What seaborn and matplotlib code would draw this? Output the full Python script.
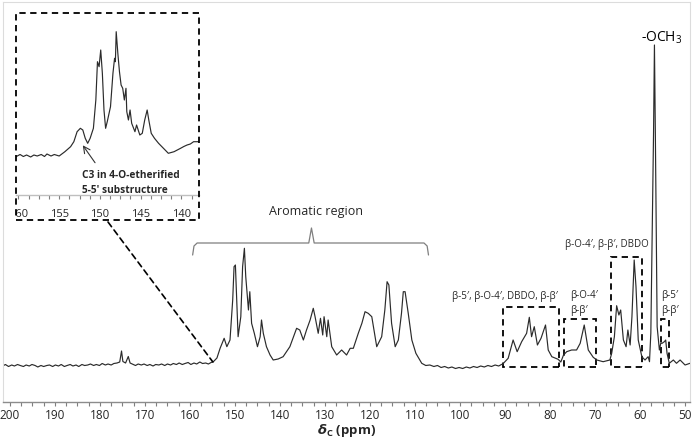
import matplotlib
matplotlib.use("Agg")
import matplotlib.pyplot as plt
import seaborn as sns
import pandas as pd
from matplotlib.patches import Rectangle, ConnectionPatch
from matplotlib.ticker import MultipleLocator

# ---------------------------------------------------------------
# spectrum: (ppm, intensity)
# ---------------------------------------------------------------
baseline_left = [
    (201.6, 1.0), (201.0, 2.5), (200.3, 0.5), (199.6, 2.0), (199.0, 1.0),
    (198.3, 2.5), (197.7, 1.5), (197.0, 0.5), (196.4, 2.0), (195.7, 1.0),
    (195.1, 2.5), (194.4, 1.5), (193.8, 0.0), (193.1, 1.5), (192.5, 0.5),
    (191.8, 1.5), (191.2, 2.0), (190.5, 0.5), (189.9, 2.0), (189.2, 1.0),
    (188.6, 2.5), (187.9, 0.5), (187.3, 1.5), (186.6, 2.5), (186.0, 1.0),
    (185.3, 2.0), (184.7, 0.5), (184.0, 2.5), (183.4, 1.5), (182.7, 2.0),
    (182.1, 3.0), (181.4, 1.5), (180.8, 2.5), (180.1, 1.5), (179.5, 3.5),
    (178.8, 2.0), (178.2, 3.0), (177.5, 2.0), (176.9, 3.5), (176.2, 4.0),
    (175.6, 5.0), (175.2, 16.0), (174.9, 5.5), (174.3, 4.0), (173.7, 10.5),
    (173.3, 4.0), (172.8, 3.0), (172.1, 1.5), (171.5, 3.0), (170.8, 2.0),
    (170.2, 3.0), (169.5, 1.5), (168.9, 2.5), (168.2, 1.0), (167.6, 2.5),
    (166.9, 2.0), (166.3, 3.0), (165.6, 1.5), (165.0, 3.0), (164.3, 2.0),
    (163.7, 3.5), (163.0, 2.5), (162.4, 4.0), (161.7, 2.5), (161.1, 3.5),
    (160.4, 4.5), (159.8, 2.5), (159.1, 4.0), (158.5, 3.0), (157.8, 5.0),
    (157.2, 3.5), (156.5, 4.0), (155.9, 3.0), (155.3, 4.5),
]

aromatic = [
    (154.8, 5.3), (154.0, 9.0), (153.3, 18.7), (152.4, 28.7), (151.8, 20.3),
    (151.1, 27.0), (150.5, 67.0), (150.2, 100.3), (149.9, 102.0), (149.6, 67.0),
    (149.3, 30.3), (148.7, 50.3), (148.3, 100.3), (147.9, 118.7), (147.6, 90.3),
    (147.0, 57.0), (146.7, 75.3), (146.3, 43.7), (145.7, 33.7), (145.0, 20.3),
    (144.4, 30.3), (144.1, 47.0), (143.7, 33.7), (143.0, 20.3), (142.2, 12.0),
    (141.5, 7.0), (140.4, 8.0), (139.3, 10.3), (137.8, 20.3), (136.3, 38.7),
    (135.6, 37.0), (134.8, 27.0), (134.1, 37.0), (133.3, 47.0), (132.6, 58.7),
    (132.2, 50.3), (131.5, 33.7), (131.0, 48.7), (130.5, 32.0), (130.2, 50.3),
    (129.6, 30.3), (129.3, 47.0), (128.5, 20.3), (127.4, 12.0), (126.3, 17.0),
    (125.2, 12.0), (124.4, 18.7), (123.7, 18.7), (122.6, 33.7), (121.8, 43.7),
    (121.1, 55.3), (120.4, 53.7), (119.6, 50.3), (118.5, 20.3), (117.4, 30.3),
    (116.7, 57.0), (116.2, 85.3), (115.8, 82.0), (115.2, 43.7), (114.4, 20.3),
    (113.7, 27.0), (113.0, 53.7), (112.6, 75.3), (112.2, 75.3), (111.5, 53.7),
    (110.7, 27.0), (109.8, 13.7), (108.5, 3.7), (107.6, 1.5), (106.7, 2.0),
]

baseline_mid = [
    (105.8, 0.5), (105.0, 1.5), (104.2, -0.5), (103.4, 0.5), (102.6, -1.0),
    (101.8, 0.0), (101.0, -1.5), (100.2, -0.5), (99.4, -1.5), (98.6, 0.0),
    (97.8, -1.0), (97.0, 0.5), (96.2, -0.5), (95.4, 1.0), (94.6, 0.0),
    (93.8, 1.5), (93.0, 0.5), (92.2, 2.0), (91.4, 1.0), (90.8, 2.5),
]

aliphatic = [
    (90.5, 3.0), (89.3, 8.7), (88.2, 27.0), (87.3, 15.3), (86.3, 25.3),
    (85.2, 33.7), (84.6, 49.7), (84.1, 30.3), (83.5, 40.3), (82.8, 22.0),
    (82.0, 28.7), (81.0, 42.0), (80.4, 17.0), (79.6, 10.3), (78.2, 7.7),
    (77.6, 5.0), (77.0, 12.0), (76.3, 15.3), (75.2, 17.0), (74.1, 17.0),
    (73.3, 23.7), (72.8, 33.7), (72.4, 42.0), (72.1, 33.7), (71.5, 17.0),
    (70.4, 9.7), (69.6, 7.0), (68.2, 5.3), (66.7, 7.0), (66.3, 13.7),
    (65.7, 30.3), (65.2, 61.3), (64.7, 52.0), (64.3, 57.0), (63.7, 27.0),
    (63.1, 20.3), (62.7, 37.0), (62.2, 22.0), (61.8, 50.3), (61.3, 107.0),
    (60.9, 80.3), (60.4, 27.0), (59.6, 10.3), (58.9, 7.0), (58.2, 10.3),
    (57.9, 5.3), (57.6, 34.0), (57.3, 134.0), (57.0, 234.0), (56.8, 322.0),
    (56.6, 234.0), (56.4, 134.0), (56.2, 40.3), (55.7, 17.0), (55.4, 23.7),
    (55.1, 23.7), (54.6, 25.3), (54.3, 27.0), (54.0, 13.7), (53.5, 3.7),
    (52.6, 7.0), (51.9, 3.7), (51.1, 7.0), (50.0, 2.0), (48.9, 3.7),
]

# inset (zoom of 160-138 ppm)
inset_trace = [
    (160.3, 0.3), (159.8, 2.5), (159.4, 0.5), (159.0, 2.0), (158.5, 0.0),
    (158.1, 2.0), (157.7, 1.0), (157.2, 2.5), (156.8, 0.5), (156.5, 3.0),
    (156.0, 1.0), (155.6, 2.5), (155.0, 1.0), (154.3, 5.3), (153.6, 10.3),
    (153.2, 15.3), (152.8, 25.3), (152.4, 28.7), (152.1, 27.0), (151.8, 18.7),
    (151.5, 13.7), (151.2, 18.7), (150.8, 28.7), (150.5, 57.0), (150.3, 95.3),
    (150.1, 90.3), (149.9, 107.0), (149.7, 83.7), (149.5, 47.0), (149.3, 28.7),
    (149.1, 35.3), (148.7, 50.3), (148.4, 83.7), (148.2, 98.7), (148.1, 95.3),
    (148.0, 125.3), (147.8, 103.7), (147.6, 85.3), (147.4, 72.0), (147.2, 68.7),
    (147.0, 57.0), (146.8, 68.7), (146.7, 45.3), (146.5, 37.0), (146.3, 47.0),
    (146.1, 33.7), (145.7, 25.3), (145.5, 32.0), (145.1, 22.0), (144.8, 23.7),
    (144.5, 37.0), (144.2, 47.0), (144.0, 37.0), (143.7, 23.7), (143.3, 18.7),
    (142.8, 13.7), (142.2, 8.7), (141.6, 3.7), (140.9, 5.3), (140.1, 8.7),
    (139.7, 10.5), (139.3, 12.0), (138.9, 13.0), (138.5, 15.3), (137.7, 15.3),
]

# assignment boxes: (ppm left, ppm right, top intensity)
box_ranges = [(90.5, 78.1, 60.3), (76.8, 69.8, 47.7), (66.4, 59.6, 110.3), (55.4, 53.6, 48.0)]
box_labels = ["β-5′, β-O-4′, DBDO, β-β′", "β-O-4′\nβ-β′", "β-O-4′, β-β′, DBDO", "β-5′\nβ-β′"]

aromatic_span = (159.4, 107.0)
aromatic_tip = 133.0

LINE = "#2b2b2b"
TXT = "#262626"

sns.set_theme(style="white")
plt.rcParams["font.family"] = ["Open Sans", "DejaVu Sans"]
plt.rcParams["mathtext.fontset"] = "custom"
plt.rcParams["mathtext.it"] = "DejaVu Sans:italic:bold"
plt.rcParams["mathtext.rm"] = "Open Sans"
plt.rcParams["mathtext.bf"] = "Open Sans:bold"

spec = pd.DataFrame(baseline_left + aromatic + baseline_mid + aliphatic, columns=["ppm", "I"])
ins_df = pd.DataFrame(inset_trace, columns=["ppm", "I"])

fig = plt.figure(figsize=(6.93, 4.44), dpi=100)
W, H = 693.0, 444.0

# ---------------- main spectrum ----------------
ax = fig.add_axes([2.7 / W, 1 - 402 / H, (690 - 2.7) / W, 400 / H])
sns.lineplot(data=spec, x="ppm", y="I", ax=ax, color=LINE, lw=0.85, sort=False, estimator=None)
ax.set_xlim(201.6, 48.9)
ax.set_ylim(-35, 365)
ax.set_yticks([])
ax.set_ylabel("")
ax.xaxis.set_major_locator(MultipleLocator(10))
ax.xaxis.set_minor_locator(MultipleLocator(2.5))
ax.tick_params(axis="x", which="both", direction="out", length=3, width=0.8,
               color="#7f7f7f", labelsize=8.5, labelcolor=TXT, pad=2, bottom=True)
for side in ["left", "top", "right"]:
    ax.spines[side].set_color("#dcdcdc")
    ax.spines[side].set_linewidth(0.8)
ax.spines["bottom"].set_color("#8c8c8c")
ax.spines["bottom"].set_linewidth(1.0)
ax.set_xlabel(r"$δ_{\mathbf{C}}$ (ppm)", fontsize=9.5, fontweight="bold", color=TXT, labelpad=0)

# dashed assignment boxes + labels
for (x0, x1, top), lab in zip(box_ranges, box_labels):
    ax.add_patch(Rectangle((x1, -0.3), x0 - x1, top + 0.3, fill=False, ec="black",
                           lw=1.3, ls=(0, (3.5, 2.5))))
ax.text(90.0, 70, box_labels[0], ha="center", va="center", fontsize=7, color=TXT)
ax.text(75.6, 51, box_labels[1], ha="left", va="bottom", fontsize=7, color=TXT, linespacing=1.5)
ax.text(67.3, 122, box_labels[2], ha="center", va="center", fontsize=7, color=TXT)
ax.text(55.3, 51, box_labels[3], ha="left", va="bottom", fontsize=7, color=TXT, linespacing=1.5)
ax.text(55.3, 329, "-OCH$_{3}$", ha="center", va="center", fontsize=10, color="black")

# aromatic bracket
xl, xr = aromatic_span
ax.plot([xl, xl - 0.3, xl - 1.0, aromatic_tip + 0.6, aromatic_tip, aromatic_tip - 0.6,
         xr + 1.0, xr + 0.3, xr],
        [112, 121, 124, 124, 139, 124, 124, 121, 112], color="#7f7f7f", lw=0.9)
ax.text(132.0, 156, "Aromatic region", ha="center", va="center", fontsize=9, color=TXT)

# ---------------- inset ----------------
ins = fig.add_axes([16 / W, 1 - 195 / H, (199.3 - 16) / W, (195 - 12.7) / H])
ins.set_facecolor("none")
sns.lineplot(data=ins_df, x="ppm", y="I", ax=ins, color=LINE, lw=0.85, sort=False, estimator=None)
ins.set_xlim(160.3, 137.8)
ins.set_ylim(-38, 144.3)
ins.set_yticks([])
ins.set_xlabel("")
ins.set_ylabel("")
ins.set_xticks([160, 155, 150, 145, 140])
ins.xaxis.set_minor_locator(MultipleLocator(1.25))
ins.tick_params(axis="x", which="both", direction="out", length=3, width=0.8,
                color="#7f7f7f", labelsize=8, labelcolor=TXT, pad=7, bottom=True)
for side in ["left", "top", "right"]:
    ins.spines[side].set_visible(False)
ins.spines["bottom"].set_color("#bfbfbf")
ins.spines["bottom"].set_linewidth(1.0)

ins.annotate("", xy=(152.3, 14), xytext=(150.4, -8),
             arrowprops=dict(arrowstyle="->", color="#333333", lw=0.8))
ins.text(152.2, -26, "C3 in 4-O-etherified\n5-5′ substructure", ha="left", va="center",
         fontsize=7.3, fontweight="bold", color=TXT, linespacing=1.45)

frame = Rectangle((16 / W, 1 - 220 / H), 183.3 / W, 207.3 / H, transform=fig.transFigure,
                  fill=False, ec="black", lw=1.3, ls=(0, (3.5, 2.5)))
fig.add_artist(frame)
for lbl in ins.get_xticklabels():
    lbl.set_clip_path(frame)

con = ConnectionPatch(xyA=(108 / W, 1 - 222 / H), coordsA="figure fraction",
                      xyB=(154.9, 5), coordsB="data", axesB=ax,
                      color="black", lw=1.2, ls=(0, (3.5, 2.5)))
fig.add_artist(con)

fig.savefig("out.png", dpi=100)
